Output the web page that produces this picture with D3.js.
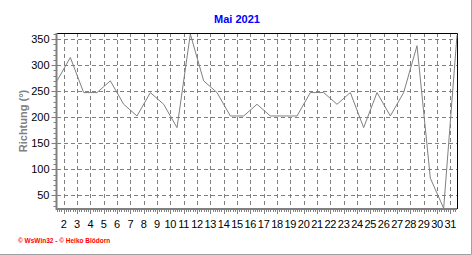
<!DOCTYPE html>
<html>
<head>
<meta charset="utf-8">
<script src="https://cdn.jsdelivr.net/npm/d3@7"></script>
<style>
  body { margin: 0; background: #fff; }
  svg { display: block; font-family: "Liberation Sans", Arial, sans-serif; }
</style>
</head>
<body>
<div id="chart"></div>
<script>
// data: daily wind direction, May 2021
var days = d3.range(1, 32);
var richtung = [270, 315, 247.5, 247.5, 270, 225, 202.5, 247.5, 225, 180, 360, 270, 247.5, 202.5, 202.5,
  225, 202.5, 202.5, 202.5, 247.5, 247.5, 225, 247.5, 180, 247.5, 202.5, 247.5, 337.5, 83, 25, 358];
var xTickDays = d3.range(2, 32);
var yTicks = [50, 100, 150, 200, 250, 300, 350];

var width = 472, height = 255;
var margin = {top: 33, right: 15, bottom: 46, left: 57};
var plotW = width - margin.left - margin.right;
var plotH = height - margin.top - margin.bottom;

var svg = d3.select("#chart").append("svg")
  .attr("width", width)
  .attr("height", height);

// points sit at midday, gridlines at day boundaries
var x = d3.scaleLinear().domain([1.5, 31.5]).range([0, plotW]);
var y = d3.scaleLinear().domain([23.7, 362]).range([plotH, 0]);

var g = svg.append("g")
  .attr("transform", "translate(" + margin.left + "," + margin.top + ")");

// grid
g.append("g").selectAll("line")
  .data(yTicks)
  .enter().append("line")
  .attr("x1", 0).attr("x2", plotW)
  .attr("y1", function(d) { return Math.round(y(d)) + 0.5; })
  .attr("y2", function(d) { return Math.round(y(d)) + 0.5; })
  .attr("stroke", "#808080")
  .attr("stroke-dasharray", "4,3");

g.append("g").selectAll("line")
  .data(xTickDays)
  .enter().append("line")
  .attr("x1", function(d) { return Math.round(x(d)) + 0.5; })
  .attr("x2", function(d) { return Math.round(x(d)) + 0.5; })
  .attr("y1", 0).attr("y2", plotH)
  .attr("stroke", "#808080")
  .attr("stroke-dasharray", "4,3");

// top and right frame
g.append("path")
  .attr("d", "M0,0.5H" + (plotW + 0.5) + "V" + plotH)
  .attr("fill", "none")
  .attr("stroke", "#000");

// data line
var line = d3.line()
  .x(function(d, i) { return x(days[i] + 0.5); })
  .y(function(d) { return y(d); });

g.append("path")
  .datum(richtung)
  .attr("d", line)
  .attr("fill", "none")
  .attr("stroke", "#808080")
  .attr("stroke-width", 1);

// y axis
var yAxis = g.append("g").attr("transform", "translate(-0.5,0)");
yAxis.selectAll(".minor")
  .data(d3.range(30, 361, 10))
  .enter().append("line")
  .attr("x1", -3).attr("x2", 0)
  .attr("y1", function(d) { return Math.round(y(d)) + 0.5; })
  .attr("y2", function(d) { return Math.round(y(d)) + 0.5; })
  .attr("stroke", "#808080");
yAxis.selectAll(".major")
  .data(yTicks)
  .enter().append("line")
  .attr("x1", -5).attr("x2", 0)
  .attr("y1", function(d) { return Math.round(y(d)) + 0.5; })
  .attr("y2", function(d) { return Math.round(y(d)) + 0.5; })
  .attr("stroke", "#808080");
yAxis.selectAll("text")
  .data(yTicks)
  .enter().append("text")
  .attr("x", -7)
  .attr("y", function(d) { return y(d); })
  .attr("dy", "0.36em")
  .attr("text-anchor", "end")
  .attr("font-size", 11)
  .attr("fill", "#000")
  .text(function(d) { return d; });
yAxis.append("line")
  .attr("x1", 0).attr("x2", 0)
  .attr("y1", 0).attr("y2", plotH + 1)
  .attr("stroke", "#808080")
  .attr("stroke-width", 2);

// x axis
var xAxis = g.append("g").attr("transform", "translate(0," + plotH + ")");
xAxis.selectAll(".minor")
  .data(d3.range(1.5, 31.5, 1 / 6))
  .enter().append("line")
  .attr("x1", function(d) { return Math.round(x(d)) + 0.5; })
  .attr("x2", function(d) { return Math.round(x(d)) + 0.5; })
  .attr("y1", 0).attr("y2", 3)
  .attr("stroke", "#808080");
xAxis.selectAll(".major")
  .data(xTickDays)
  .enter().append("line")
  .attr("x1", function(d) { return Math.round(x(d)) + 0.5; })
  .attr("x2", function(d) { return Math.round(x(d)) + 0.5; })
  .attr("y1", 0).attr("y2", 5)
  .attr("stroke", "#808080");
xAxis.selectAll("text")
  .data(xTickDays)
  .enter().append("text")
  .attr("x", function(d) { return x(d); })
  .attr("y", 19)
  .attr("text-anchor", "middle")
  .attr("font-size", 11)
  .attr("letter-spacing", "-0.3")
  .attr("fill", "#000")
  .text(function(d) { return d; });
xAxis.append("line")
  .attr("x1", -1).attr("x2", plotW)
  .attr("y1", 0).attr("y2", 0)
  .attr("stroke", "#808080")
  .attr("stroke-width", 2);

// title
svg.append("text")
  .attr("x", 237)
  .attr("y", 23)
  .attr("text-anchor", "middle")
  .attr("font-size", 11)
  .attr("font-weight", "bold")
  .attr("fill", "#0000ff")
  .text("Mai 2021");

// y label
svg.append("text")
  .attr("transform", "translate(27,121) rotate(-90)")
  .attr("text-anchor", "middle")
  .attr("font-size", 11)
  .attr("font-weight", "bold")
  .attr("fill", "#808080")
  .text("Richtung (°)");

// footer
svg.append("text")
  .attr("x", 18)
  .attr("y", 243)
  .attr("font-size", 6.5)
  .attr("font-weight", "bold")
  .attr("fill", "#ff0000")
  .text("© WsWin32 - © Heiko Blödorn");

// outer panel edge
svg.append("path")
  .attr("d", "M" + (width - 0.5) + ",0V" + (height - 0.5) + "H0")
  .attr("fill", "none")
  .attr("stroke", "#a0a0a0");
</script>
</body>
</html>
